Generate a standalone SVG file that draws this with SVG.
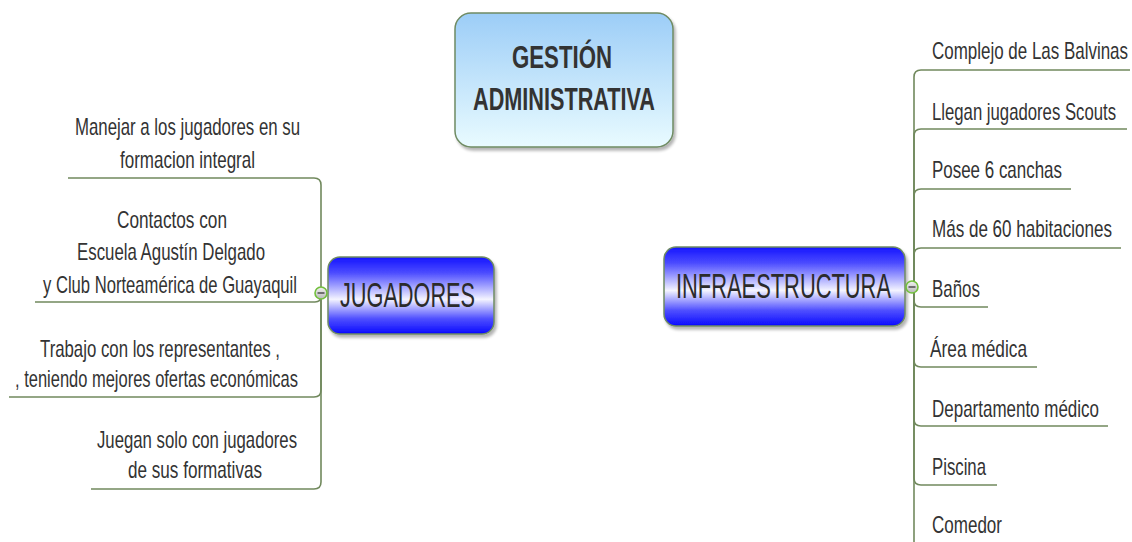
<svg xmlns="http://www.w3.org/2000/svg" width="1132" height="542" viewBox="0 0 1132 542">
  <defs>
    <linearGradient id="gradCentral" x1="0" y1="0" x2="0" y2="1">
      <stop offset="0" stop-color="#9ccdf7"/>
      <stop offset="1" stop-color="#e9fbff"/>
    </linearGradient>
    <linearGradient id="gradMain" x1="0" y1="0" x2="0" y2="1">
      <stop offset="0" stop-color="#1414ff"/>
      <stop offset="0.2" stop-color="#4a4aff"/>
      <stop offset="0.55" stop-color="#f4f4ff"/>
      <stop offset="0.8" stop-color="#5050ff"/>
      <stop offset="1" stop-color="#0a0aff"/>
    </linearGradient>
    <linearGradient id="gradToggle" x1="0" y1="0" x2="0" y2="1">
      <stop offset="0" stop-color="#f2f2f2"/>
      <stop offset="1" stop-color="#b8b8b8"/>
    </linearGradient>
    <filter id="shadow" x="-10%" y="-10%" width="125%" height="130%">
      <feGaussianBlur in="SourceAlpha" stdDeviation="1.5"/>
      <feOffset dx="2" dy="3" result="off"/>
      <feComponentTransfer><feFuncA type="linear" slope="0.3"/></feComponentTransfer>
      <feMerge><feMergeNode/><feMergeNode in="SourceGraphic"/></feMerge>
    </filter>
  </defs>
  <style>
    .branch { fill: none; stroke: #71895d; stroke-width: 1.6; }
    .label { font-family: "Liberation Sans", Arial, sans-serif; font-size: 24px; fill: #333333; }
    .title { font-family: "Liberation Sans", Arial, sans-serif; font-weight: bold; font-size: 32px; fill: #333333; }
    .main { font-family: "Liberation Sans", Arial, sans-serif; font-size: 35px; fill: #2b2b2b; }
    .box { stroke: #6f8b63; stroke-width: 1.5; }
    .toggle { fill: url(#gradToggle); stroke: #72c03c; stroke-width: 1.6; }
    .minus { stroke: #555555; stroke-width: 1.6; }
  </style>

  <!-- branch lines -->
  <g id="connectors">
    <!-- left side, JUGADORES -->
    <path class="branch" d="M 321 293 V 185 Q 321 178 314 178 H 68"/>
    <path class="branch" d="M 321 293 V 296 Q 321 302 315 302 H 35"/>
    <path class="branch" d="M 321 293 V 390 Q 321 397 314 397 H 9"/>
    <path class="branch" d="M 321 293 V 482 Q 321 489 314 489 H 91"/>
    <!-- right side, INFRAESTRUCTURA -->
    <path class="branch" d="M 914 287 V 77 Q 914 70 921 70 H 1130"/>
    <path class="branch" d="M 914 287 V 136 Q 914 129 921 129 H 1127"/>
    <path class="branch" d="M 914 287 V 196 Q 914 189 921 189 H 1071"/>
    <path class="branch" d="M 914 287 V 255 Q 914 248 921 248 H 1121"/>
    <path class="branch" d="M 914 287 V 300 Q 914 307 921 307 H 988"/>
    <path class="branch" d="M 914 287 V 360 Q 914 367 921 367 H 1037"/>
    <path class="branch" d="M 914 287 V 419 Q 914 426 921 426 H 1108"/>
    <path class="branch" d="M 914 287 V 478 Q 914 485 921 485 H 997"/>
    <path class="branch" d="M 914 287 V 542"/>
  </g>

  <!-- central topic -->
  <g id="gestion-administrativa">
    <rect class="box" x="455" y="13" width="218" height="134" rx="16" fill="url(#gradCentral)" filter="url(#shadow)"/>
    <text class="title" x="512" y="68" textLength="100" lengthAdjust="spacingAndGlyphs">GESTIÓN</text>
    <text class="title" x="473" y="110" textLength="182" lengthAdjust="spacingAndGlyphs">ADMINISTRATIVA</text>
  </g>

  <!-- main topic: JUGADORES -->
  <g id="jugadores">
    <rect class="box" x="328" y="257" width="166" height="77" rx="12" fill="url(#gradMain)" filter="url(#shadow)"/>
    <text class="main" x="340" y="307" textLength="135" lengthAdjust="spacingAndGlyphs">JUGADORES</text>
    <circle class="toggle" cx="321" cy="293" r="6"/>
    <line class="minus" x1="317.5" y1="293" x2="324.5" y2="293"/>
  </g>

  <!-- main topic: INFRAESTRUCTURA -->
  <g id="infraestructura">
    <rect class="box" x="664" y="247" width="241" height="79" rx="12" fill="url(#gradMain)" filter="url(#shadow)"/>
    <text class="main" x="676" y="298" textLength="215" lengthAdjust="spacingAndGlyphs">INFRAESTRUCTURA</text>
    <circle class="toggle" cx="912" cy="287" r="6"/>
    <line class="minus" x1="908.5" y1="287" x2="915.5" y2="287"/>
  </g>

  <!-- JUGADORES subtopics -->
  <g id="manejar">
    <text class="label" x="75" y="135" textLength="225" lengthAdjust="spacingAndGlyphs">Manejar a los jugadores en su</text>
    <text class="label" x="120" y="168" textLength="135" lengthAdjust="spacingAndGlyphs">formacion integral</text>
  </g>
  <g id="contactos">
    <text class="label" x="117" y="228" textLength="110" lengthAdjust="spacingAndGlyphs">Contactos con</text>
    <text class="label" x="77" y="260" textLength="188" lengthAdjust="spacingAndGlyphs">Escuela Agustín Delgado</text>
    <text class="label" x="43" y="293" textLength="254" lengthAdjust="spacingAndGlyphs">y Club Norteamérica de Guayaquil</text>
  </g>
  <g id="trabajo">
    <text class="label" x="40" y="357" textLength="240" lengthAdjust="spacingAndGlyphs">Trabajo con los representantes ,</text>
    <text class="label" x="15" y="387" textLength="283" lengthAdjust="spacingAndGlyphs">, teniendo mejores ofertas económicas</text>
  </g>
  <g id="juegan">
    <text class="label" x="97" y="448" textLength="200" lengthAdjust="spacingAndGlyphs">Juegan solo con jugadores</text>
    <text class="label" x="128" y="478" textLength="134" lengthAdjust="spacingAndGlyphs">de sus formativas</text>
  </g>

  <!-- INFRAESTRUCTURA subtopics -->
  <g id="complejo"><text class="label" x="932" y="59" textLength="196" lengthAdjust="spacingAndGlyphs">Complejo de Las Balvinas</text></g>
  <g id="llegan"><text class="label" x="932" y="120" textLength="184" lengthAdjust="spacingAndGlyphs">Llegan jugadores Scouts</text></g>
  <g id="canchas"><text class="label" x="932" y="178" textLength="130" lengthAdjust="spacingAndGlyphs">Posee 6 canchas</text></g>
  <g id="habitaciones"><text class="label" x="932" y="237" textLength="180" lengthAdjust="spacingAndGlyphs">Más de 60 habitaciones</text></g>
  <g id="banos"><text class="label" x="932" y="297" textLength="48" lengthAdjust="spacingAndGlyphs">Baños</text></g>
  <g id="area-medica"><text class="label" x="930" y="357" textLength="97" lengthAdjust="spacingAndGlyphs">Área médica</text></g>
  <g id="departamento"><text class="label" x="932" y="417" textLength="167" lengthAdjust="spacingAndGlyphs">Departamento médico</text></g>
  <g id="piscina"><text class="label" x="932" y="475" textLength="54" lengthAdjust="spacingAndGlyphs">Piscina</text></g>
  <g id="comedor"><text class="label" x="932" y="533" textLength="70" lengthAdjust="spacingAndGlyphs">Comedor</text></g>
</svg>
